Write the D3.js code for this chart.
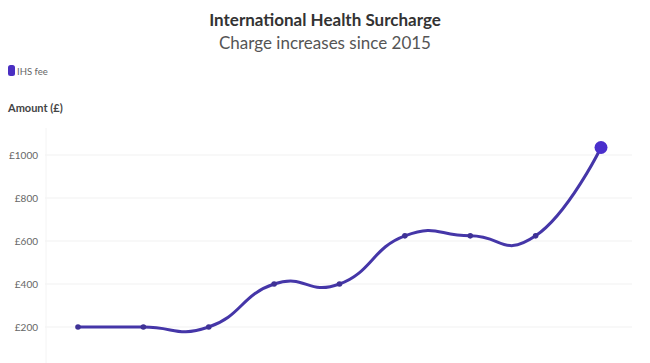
<!DOCTYPE html>
<html>
<head>
<meta charset="utf-8">
<script src="https://cdn.jsdelivr.net/npm/d3@7"></script>
<style>
  body { margin: 0; background: #fff; }
  svg { display: block; font-family: Lato, "Open Sans", sans-serif; }
</style>
</head>
<body>
<div id="chart"></div>
<script>
// data
var years = ["2015", "2016", "2017", "2018", "2019", "2020", "2021", "2022", "2023"];
var fees = [200, 200, 200, 400, 400, 624, 624, 624, 1035];
var yTicks = [200, 400, 600, 800, 1000];

var width = 650, height = 363;

var svg = d3.select("#chart").append("svg")
  .attr("width", width)
  .attr("height", height);

// title and subtitle
svg.append("text")
  .attr("x", 325).attr("y", 26)
  .attr("text-anchor", "middle")
  .style("font-size", "17px").style("font-weight", "bold").style("fill", "#333")
  .text("International Health Surcharge");

svg.append("text")
  .attr("x", 325).attr("y", 49)
  .attr("text-anchor", "middle")
  .style("font-size", "17px").style("fill", "#555")
  .text("Charge increases since 2015");

// legend
svg.append("rect")
  .attr("x", 8).attr("y", 65).attr("width", 7).attr("height", 11)
  .attr("rx", 2.5)
  .style("fill", "#4a2fc2");
svg.append("text")
  .attr("x", 17).attr("y", 75)
  .style("font-size", "9.5px").style("fill", "#666")
  .text("IHS fee");

// axis title
svg.append("text")
  .attr("x", 8).attr("y", 112)
  .style("font-size", "11px").style("font-weight", "bold").style("fill", "#444")
  .text("Amount (£)");

// scales
var x = d3.scalePoint()
  .domain(years)
  .range([78, 601]);

var y = d3.scaleLinear()
  .domain([0, 1100])
  .range([370, 133.5]);

// gridlines
var grid = svg.append("g");
grid.selectAll("line")
  .data(yTicks)
  .enter().append("line")
  .attr("x1", 45).attr("x2", 632)
  .attr("y1", function(d) { return y(d); })
  .attr("y2", function(d) { return y(d); })
  .style("stroke", "#f1f1f1")
  .style("stroke-width", 1);

grid.append("line")
  .attr("x1", 46).attr("x2", 46)
  .attr("y1", 128).attr("y2", 363)
  .style("stroke", "#f4f4f4");

// y axis labels
var yAxis = d3.axisLeft(y)
  .tickValues(yTicks)
  .tickSize(0)
  .tickPadding(0)
  .tickFormat(function(d) { return "£" + d; });

var yg = svg.append("g")
  .attr("transform", "translate(38,0)")
  .call(yAxis);
yg.select(".domain").remove();
yg.selectAll("text")
  .style("font-family", "Lato, 'Open Sans', sans-serif")
  .style("font-size", "10px")
  .style("fill", "#666");

// line, a bit more overshoot than plain cardinal
var line = d3.line()
  .x(function(d, i) { return x(years[i]); })
  .y(function(d) { return y(d); })
  .curve(d3.curveCardinal.tension(-0.5));

svg.append("path")
  .datum(fees)
  .attr("d", line)
  .style("fill", "none")
  .style("stroke", "#4536a8")
  .style("stroke-width", 3)
  .style("stroke-linecap", "round");

// markers, last one bigger
svg.selectAll("circle.pt")
  .data(fees)
  .enter().append("circle")
  .attr("class", "pt")
  .attr("cx", function(d, i) { return x(years[i]); })
  .attr("cy", function(d) { return y(d); })
  .attr("r", function(d, i) { return i == fees.length - 1 ? 6.5 : 2.8; })
  .style("fill", function(d, i) { return i == fees.length - 1 ? "#4a2fcc" : "#3f3296"; });
</script>
</body>
</html>
